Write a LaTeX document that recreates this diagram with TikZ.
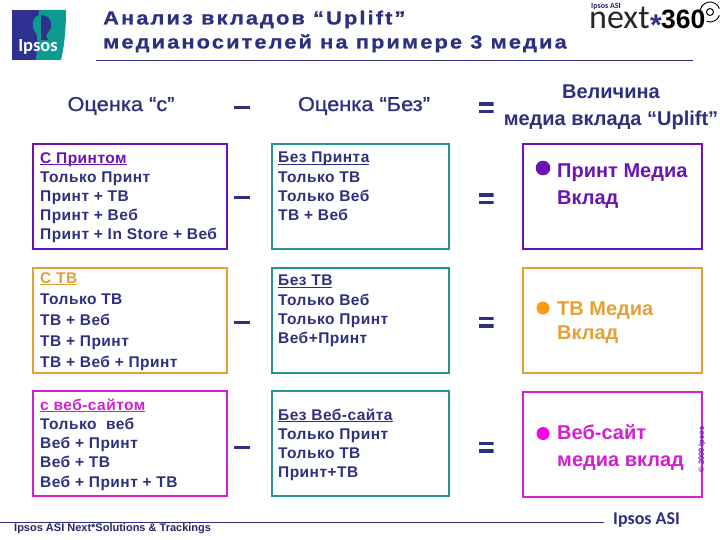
\documentclass[tikz,border=0pt]{standalone}
\usepackage{fontspec}
\setmainfont{Liberation Sans}
\newfontfamily\titlefont[LetterSpace=11,FakeStretch=1.15,BoldFeatures={FakeBold=0.7}]{Liberation Sans}
\newfontfamily\bodyfont[LetterSpace=3]{Liberation Sans}
\newfontfamily\headfont[FakeBold=1.1,FakeStretch=1.09]{Liberation Sans}
\newfontfamily\logofont{Carlito}
\newcommand\myul[1]{\setbox0=\hbox{#1}\rlap{\rule[-1.8pt]{\wd0}{1.1pt}}\box0}
\definecolor{navy}{HTML}{2F2F80}
\definecolor{pur}{HTML}{6A14B4}
\definecolor{org}{HTML}{E5A035}
\definecolor{mag}{HTML}{D21FD2}
\definecolor{grn}{HTML}{26948E}
\definecolor{logoblue}{HTML}{2E3192}
\definecolor{logoteal}{HTML}{0E9A90}
\definecolor{dotmag}{HTML}{FA00E6}
\definecolor{dotorg}{HTML}{FF9A10}
\tikzset{
 x=1pt,y=-1pt,
 box/.style={draw,line width=2pt,rectangle,minimum width=#1,anchor=north west,inner sep=0pt,outer sep=0pt},
 head/.style={text=navy,font=\fontsize{20}{20}\selectfont\headfont,anchor=center,inner sep=0pt},
 list/.style={text=navy,font=\fontsize{15.5}{19.2}\selectfont\bfseries\bodyfont,align=left,anchor=north west,inner sep=0pt},
 res/.style={font=\fontsize{20}{27}\selectfont\bfseries,align=left,anchor=north west,inner sep=0pt},
 rule/.style={draw=navy,line width=0.8pt},
 minusop/.style={fill=navy,minimum width=16pt,minimum height=3pt,inner sep=0pt,anchor=center},
 eqop/.style={minimum width=15pt,minimum height=11pt,inner sep=0pt,anchor=center,
   path picture={\fill[navy] (path picture bounding box.north west) rectangle ([yshift=-3.7pt]path picture bounding box.north east);
                 \fill[navy] (path picture bounding box.south west) rectangle ([yshift=3.7pt]path picture bounding box.south east);}},
}
\begin{document}
\begin{tikzpicture}
\useasboundingbox (0,0) rectangle (720,540);
% logo
\fill[logoblue] (12,10) rectangle (60,60);
\fill[logoteal] (39,10) -- (66,10) .. controls (66,30) and (64,48) .. (61,60) -- (36,60) .. controls (38,45) and (38,25) .. (39,10) -- cycle;
\fill[logoteal] (41,15) .. controls (35,15) and (32,20) .. (33,26) .. controls (33,30) and (36,33) .. (37,35) -- (37,40) -- (41,40) -- cycle;
\fill[logoblue] (41,15) .. controls (48,15) and (52,20) .. (51,27) .. controls (50,31) and (47,33) .. (46,35) -- (48,40) -- (41,40) -- cycle;
\node[text=white,font=\logofont\bfseries\fontsize{18.5}{18.5}\selectfont,inner sep=0pt] (ipsoslogo) at (38,47) {Ipsos};
% title
\node[text=navy,font=\fontsize{19}{24}\selectfont\bfseries\titlefont,align=left,anchor=north west,inner sep=0pt] (title) at (103,10.5) {Анализ вкладов “Uplift”\\медианосителей на примере 3 медиа};
\coordinate (r1a) at (96,60.5); \coordinate (r1b) at (693,60.5);
\draw[rule] (r1a) -- (r1b);
% next360 logo
\node[text=navy!70!black,font=\logofont\bfseries\fontsize{8}{8}\selectfont,inner sep=0pt,anchor=west] (asi) at (591,6.5) {Ipsos ASI};
\node[text=black!85,font=\logofont\fontsize{34}{34}\selectfont,inner sep=0pt,anchor=base west] (next) at (589,29) {next};
\node[text=logoblue,font=\fontsize{30}{30}\selectfont\bfseries,inner sep=0pt] (star) at (656,25.5) {*};
\node[text=black,font=\fontsize{26.5}{26.5}\selectfont\bfseries,inner sep=0pt,anchor=base west] (n360) at (661,29) {360};
\draw[black,line width=1pt] (710,12) circle (3.5);
\draw[black,line width=0.9pt] ([shift={(710,12)}]170:10) arc (170:340:10);
\draw[black,line width=0.9pt] ([shift={(710,12)}]20:10) arc (20:110:10);
% headers
\node[head] (h1) at (121,106) {Оценка “с”};
\node[minusop] (hm) at (242,108) {};
\node[head] (h2) at (364,106) {Оценка “Без”};
\node[eqop] (he) at (486,108) {};
\node[head,align=center,font=\fontsize{20}{27}\selectfont\bfseries] (h3) at (611,107.5) {Величина\\медиа вклада “Uplift”};
% left column
\node[box=194pt,draw=pur,minimum height=105pt] (a1) at (33,144) {};
\node[list] (ta1) at (40,152) {\textcolor{pur}{\myul{С Принтом}}\\Только Принт\\Принт + ТВ\\Принт + Веб\\Принт + In Store + Веб};
\node[box=194pt,draw=org,minimum height=105pt] (a2) at (33,268) {};
\node[list,font=\fontsize{15.5}{21}\selectfont\bfseries\bodyfont] (ta2) at (40,272.5) {\textcolor{org}{\myul{С ТВ}}\\Только ТВ\\ТВ + Веб\\ТВ + Принт\\ТВ + Веб + Принт};
\node[box=194pt,draw=mag,minimum height=105pt] (a3) at (33,391) {};
\node[list] (ta3) at (40,398.5) {\textcolor{mag}{\myul{с веб-сайтом}}\\Только\ \ веб\\Веб + Принт\\Веб + ТВ\\Веб + Принт + ТВ};
% minus
\node[minusop] (m1) at (242,198) {};
\node[minusop] (m2) at (242,322) {};
\node[minusop] (m3) at (242,447) {};
% middle column
\node[box=177.5pt,draw=grn,minimum height=105pt] (b1) at (271.5,144) {};
\node[list] (tb1) at (278,152) {\myul{Без Принта}\\Только ТВ\\Только Веб\\ТВ + Веб};
\node[box=177.5pt,draw=grn,minimum height=105pt] (b2) at (271.5,268) {};
\node[list] (tb2) at (278,275) {\myul{Без ТВ}\\Только Веб\\Только Принт\\Веб+Принт};
\node[box=177.5pt,draw=grn,minimum height=105pt] (b3) at (271.5,391) {};
\node[list] (tb3) at (278,408.5) {\myul{Без Веб-сайта}\\Только Принт\\Только ТВ\\Принт+ТВ};
% equals
\node[eqop] (e1) at (486,199) {};
\node[eqop] (e2) at (486,322) {};
\node[eqop] (e3) at (486,447) {};
% right column
\node[box=179pt,draw=pur,minimum height=105pt] (c1) at (523,144) {};
\fill[pur] (543,168) circle (7.3);
\node[res,text=pur] (tc1) at (557,163.5) {Принт Медиа\\Вклад};
\node[box=179pt,draw=org,minimum height=105pt] (c2) at (523,268) {};
\fill[dotorg] (543,308) circle (6.5);
\node[res,font=\fontsize{20}{24.5}\selectfont\bfseries,text=org] (tc2) at (557,301.5) {ТВ Медиа\\Вклад};
\node[box=179pt,draw=mag,minimum height=105pt] (c3) at (523,392) {};
\fill[dotmag] (543,433.5) circle (6.5);
\node[res,text=mag] (tc3) at (557,424.5) {Веб-сайт\\медиа вклад};
% copyright
\node[text=pur,font=\fontsize{7.5}{7.5}\selectfont\bfseries,rotate=90,inner sep=0pt] (copy) at (702,449.5) {© 2009 Ipsos};
% footer
\node[text=navy!80!black,font=\fontsize{11}{11}\selectfont\bfseries,anchor=west,inner sep=0pt] (foot) at (14,529) {Ipsos ASI Next*Solutions \& Trackings};
\coordinate (r2a) at (0,522.5); \coordinate (r2b) at (604,522.5);
\draw[rule] (r2a) -- (r2b);
\node[text=navy,font=\logofont\bfseries\fontsize{18}{18}\selectfont,anchor=west,inner sep=0pt] (ipsosasi) at (613,520) {Ipsos ASI};
\end{tikzpicture}
\end{document}
